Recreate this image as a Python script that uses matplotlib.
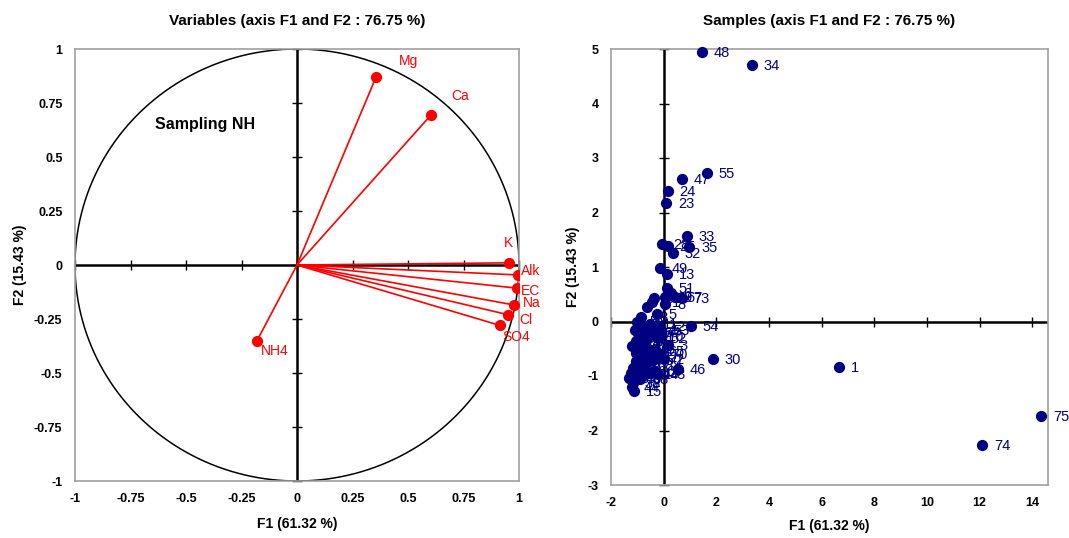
import numpy as np
import matplotlib
matplotlib.use("Agg")
import matplotlib.pyplot as plt

# ---- variables (correlation circle) ----
var_names = ["Mg", "Ca", "K", "Alk", "EC", "Na", "Cl", "SO4", "NH4"]
var_f1 = [0.356, 0.604, 0.955, 0.995, 0.990, 0.977, 0.950, 0.915, -0.180]
var_f2 = [0.870, 0.695, 0.010, -0.046, -0.107, -0.185, -0.230, -0.280, -0.350]
# label offsets in pixels (dx, dy)
var_offsets = [(23, 16), (20, 19), (-5, 20), (3, 4), (4, -3), (9, 2), (11, -5), (2, -12), (4, -10)]

# ---- samples (observations) ----
sample_labels = [
    "48", "34", "55", "47", "24", "23", "28", "25", "33", "35", "32", "49", "13",
    "51", "6", "67", "73", "19", "62", "71", "7", "18", "5", "8", "12", "10",
    "54", "30", "46", "3", "2", "1", "15", "38", "74", "75",
    "4", "9", "11", "14", "16", "17", "20", "21", "22", "26", "27", "29", "31",
    "36", "37", "39", "40", "41", "42", "43", "44", "45", "50", "52", "53",
    "56", "57", "58", "59", "60", "61", "63", "64", "65", "66", "68", "69",
    "70", "72",
]
sample_f1 = [
    1.44, 3.34, 1.63, 0.68, 0.15, 0.08, -0.08, 0.15, 0.87, 0.98, 0.34, -0.15, 0.11,
    0.11, 0.27, 0.42, 0.68, 0.05, -0.38, -0.45, -0.64, -0.87, -0.27, 0.05, -0.23, -0.30,
    1.02, 1.86, 0.53, 0.15, 0.00, 6.65, -1.14, -1.18, 12.10, 14.35,
    -0.95, -0.80, -0.50, -0.60, -0.98, -0.76, -1.06, -1.06, -0.76, -0.95, -1.06, -0.80,
    -1.06, -0.95, -1.25, -1.32, -1.14, -0.76, -0.50, -0.23, -1.20, -0.60, -0.40,
    -0.20, -0.10, -1.20, -0.90, -0.70, -1.00, -0.85, -0.65, -1.10, -0.45, -0.30,
    -1.15, -0.90, -0.35, -0.15, -0.55,
]
sample_f2 = [
    4.94, 4.70, 2.73, 2.61, 2.39, 2.17, 1.42, 1.38, 1.56, 1.36, 1.25, 0.99, 0.88,
    0.62, 0.53, 0.45, 0.44, 0.45, 0.44, 0.35, 0.26, 0.09, 0.13, 0.32, -0.09, -0.26,
    -0.09, -0.68, -0.88, -0.44, -0.68, -0.83, -1.27, -1.12, -2.26, -1.74,
    -0.07, -0.11, -0.04, -0.17, -0.22, -0.26, -0.35, -0.57, -0.44, -0.63, -0.72, -0.66,
    -0.81, -0.90, -0.94, -1.03, -1.03, -0.96, -0.94, -0.96, -1.20, -0.50, -0.70,
    -0.30, -0.15, -0.45, -0.35, -0.80, 0.00, -0.50, -0.30, -0.15, -0.20, -0.55,
    -0.85, -1.05, -0.90, -0.60, -0.65,
]

F1_LABEL = "F1 (61.32 %)"
F2_LABEL = "F2 (15.43 %)"

plt.rcParams["font.family"] = ["Liberation Sans", "DejaVu Sans"]
FRAME = "#a0a0a0"


def style_axes(ax, xticks, yticks, xfmt, yfmt, xlabelpad):
    for s in ax.spines.values():
        s.set_color(FRAME)
        s.set_linewidth(1.2)
    ax.set_xticks(xticks)
    ax.set_yticks(yticks)
    ax.set_xticklabels([xfmt(t) for t in xticks], fontweight="bold", fontsize=9)
    ax.set_yticklabels([yfmt(t) for t in yticks], fontweight="bold", fontsize=9)
    ax.tick_params(length=0, pad=9)
    # axis lines through origin with crossing tick marks
    ax.axhline(0, color="black", lw=1.8, zorder=1)
    ax.axvline(0, color="black", lw=1.8, zorder=1)
    ax.plot(xticks, np.zeros(len(xticks)), ls="none", marker="|", ms=7,
            mew=1, color="black", zorder=1, clip_on=False)
    ax.plot(np.zeros(len(yticks)), yticks, ls="none", marker="_", ms=7,
            mew=1, color="black", zorder=1, clip_on=False)
    ax.set_xlabel(F1_LABEL, fontweight="bold", fontsize=10, labelpad=xlabelpad)
    ax.set_ylabel(F2_LABEL, fontweight="bold", fontsize=10, labelpad=5)


def fmt_quarter(t):
    if abs(t) < 1e-9:
        return "0"
    return "%g" % t


fig = plt.figure(figsize=(10.69, 5.38), dpi=100)

# ---- left: correlation circle ----
ax1 = fig.add_axes([75 / 1069, 1 - 481 / 538, 444 / 1069, 432 / 538])
ax1.set_xlim(-1, 1)
ax1.set_ylim(-1, 1)
th = np.linspace(0, 2 * np.pi, 400)
ax1.plot(np.cos(th), np.sin(th), color="black", lw=1.1, zorder=1)
ticks_q = np.arange(-1, 1.01, 0.25)
style_axes(ax1, ticks_q, ticks_q, fmt_quarter, fmt_quarter, 8)
for name, x, y, off in zip(var_names, var_f1, var_f2, var_offsets):
    ax1.plot([0, x], [0, y], color="red", lw=1.2, zorder=2)
    ax1.annotate(name, (x, y), xytext=off, textcoords="offset pixels",
                 ha="left", va="center", color="red", fontsize=10)
ax1.scatter(var_f1, var_f2, s=50, color="red", zorder=3)
ax1.text(-0.64, 0.65, "Sampling NH", fontweight="bold", fontsize=11.5,
         ha="left", va="center")
ax1.set_title("Variables (axis F1 and F2 : 76.75 %)", fontweight="bold",
              fontsize=11, pad=17)

# ---- right: observations ----
ax2 = fig.add_axes([611 / 1069, 1 - 485 / 538, 437 / 1069, 436 / 538])
ax2.set_xlim(-2, 14.6)
ax2.set_ylim(-3, 5)
style_axes(ax2, np.arange(-2, 15, 2), np.arange(-3, 6, 1),
           lambda t: "%d" % t, lambda t: "%d" % t, 7)
ax2.scatter(sample_f1, sample_f2, s=50, color="#000080", zorder=3,
            clip_on=False)
for lab, x, y in zip(sample_labels, sample_f1, sample_f2):
    ax2.annotate(lab, (x, y), xytext=(12, -1), textcoords="offset pixels",
                 ha="left", va="center", color="#000080", fontsize=10.5,
                 annotation_clip=False)
ax2.set_title("Samples (axis F1 and F2 : 76.75 %)", fontweight="bold",
              fontsize=11, pad=17)

fig.savefig("out.png", dpi=100)
